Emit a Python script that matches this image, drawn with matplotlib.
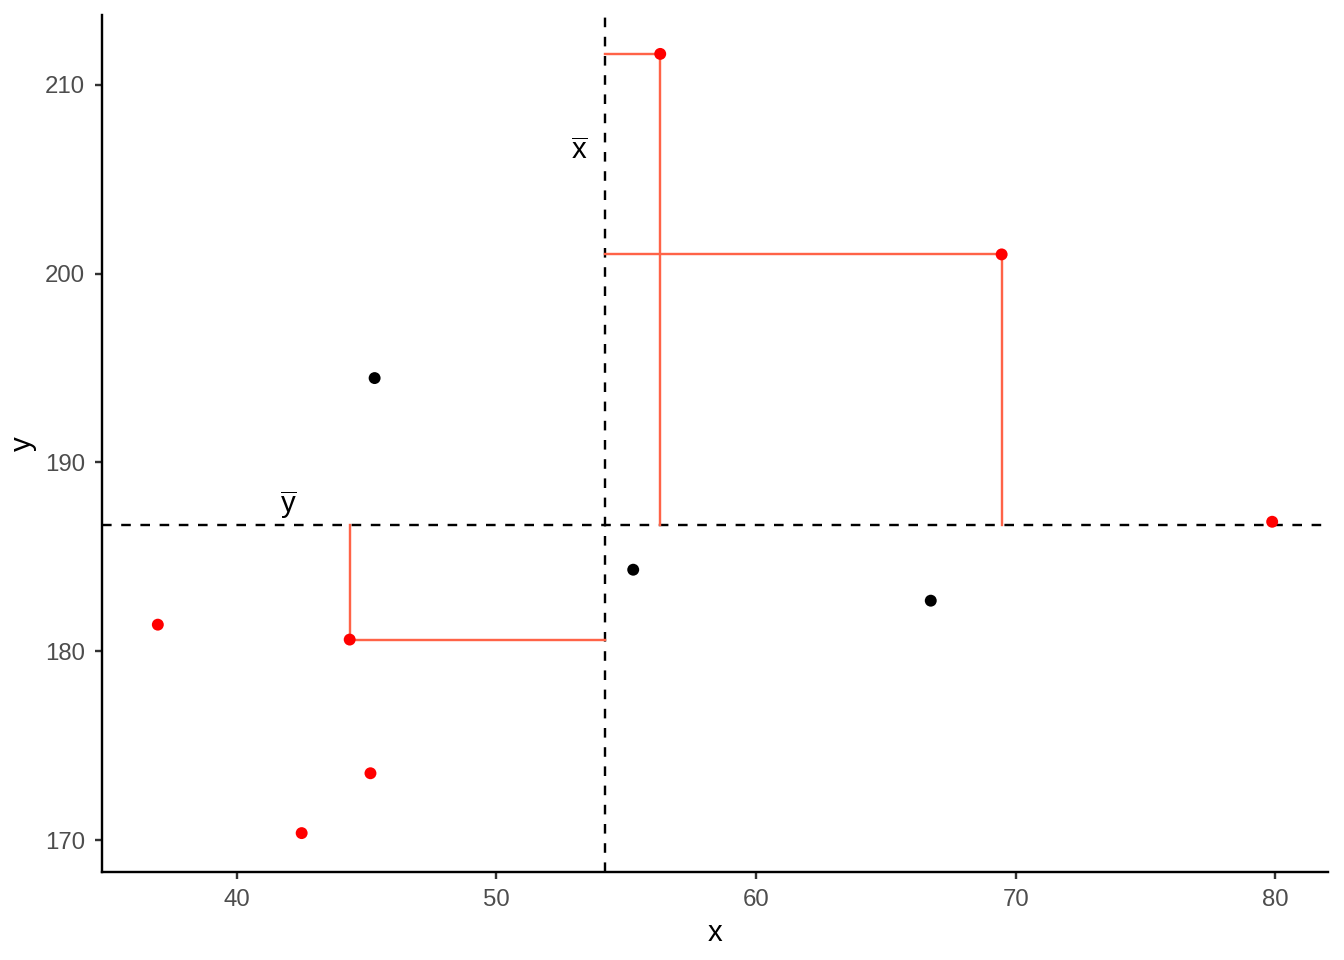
import matplotlib
matplotlib.use("Agg")
import matplotlib.pyplot as plt
import numpy as np

plt.rcParams['font.family'] = ['Liberation Sans', 'DejaVu Sans']
plt.rcParams['mathtext.fontset'] = 'custom'
plt.rcParams['mathtext.rm'] = 'Liberation Sans'
plt.rcParams['mathtext.it'] = 'Liberation Sans'

x = [36.96, 42.50, 45.15, 44.35, 45.31, 55.27, 56.31, 66.73, 69.46, 79.88]
y = [181.41, 170.37, 173.54, 180.62, 194.47, 184.32, 211.64, 182.68, 201.02, 186.86]
highlight = [True, True, True, True, False, False, True, False, True, True]
with_segments = [False, False, False, True, False, False, True, False, True, False]

x = np.array(x); y = np.array(y)
xbar = x.mean(); ybar = y.mean()

fig = plt.figure(figsize=(7, 5), dpi=192)
ax = fig.add_axes([102/1344, 1 - 872/960, (1328-102)/1344, (872-15)/960])

seg_col = '#FF6347'
for xi, yi, s in zip(x, y, with_segments):
    if s:
        ax.plot([xbar, xi], [yi, yi], color=seg_col, lw=0.9, zorder=2)
        ax.plot([xi, xi], [yi, ybar], color=seg_col, lw=0.9, zorder=2)

ax.axvline(xbar, color='black', ls=(0, (4, 4)), lw=0.9, zorder=1)
ax.axhline(ybar, color='black', ls=(0, (4, 4)), lw=0.9, zorder=1)

cols = ['red' if h else 'black' for h in highlight]
ax.scatter(x, y, c=cols, s=20, zorder=3, linewidths=0)

ax.text(xbar - 1.0, 206.5, r'$\overline{\mathrm{x}}$', fontsize=11, ha='center', va='center')
ax.text(42.0, 187.75, r'$\overline{\mathrm{y}}$', fontsize=11, ha='center', va='center')

ax.set_xlim(34.81, 82.03)
ax.set_ylim(168.31, 213.70)
ax.set_xticks([40, 50, 60, 70, 80])
ax.set_yticks([170, 180, 190, 200, 210])
for s in ['top', 'right']:
    ax.spines[s].set_visible(False)
for s in ['left', 'bottom']:
    ax.spines[s].set_linewidth(0.9)
ax.tick_params(axis='both', labelsize=9, labelcolor='#4D4D4D', color='#333333', length=2.75, width=0.9)
ax.set_xlabel('x', fontsize=11, labelpad=3)
ax.set_ylabel('y', fontsize=11, labelpad=3)

fig.savefig('out.png', dpi=192)
